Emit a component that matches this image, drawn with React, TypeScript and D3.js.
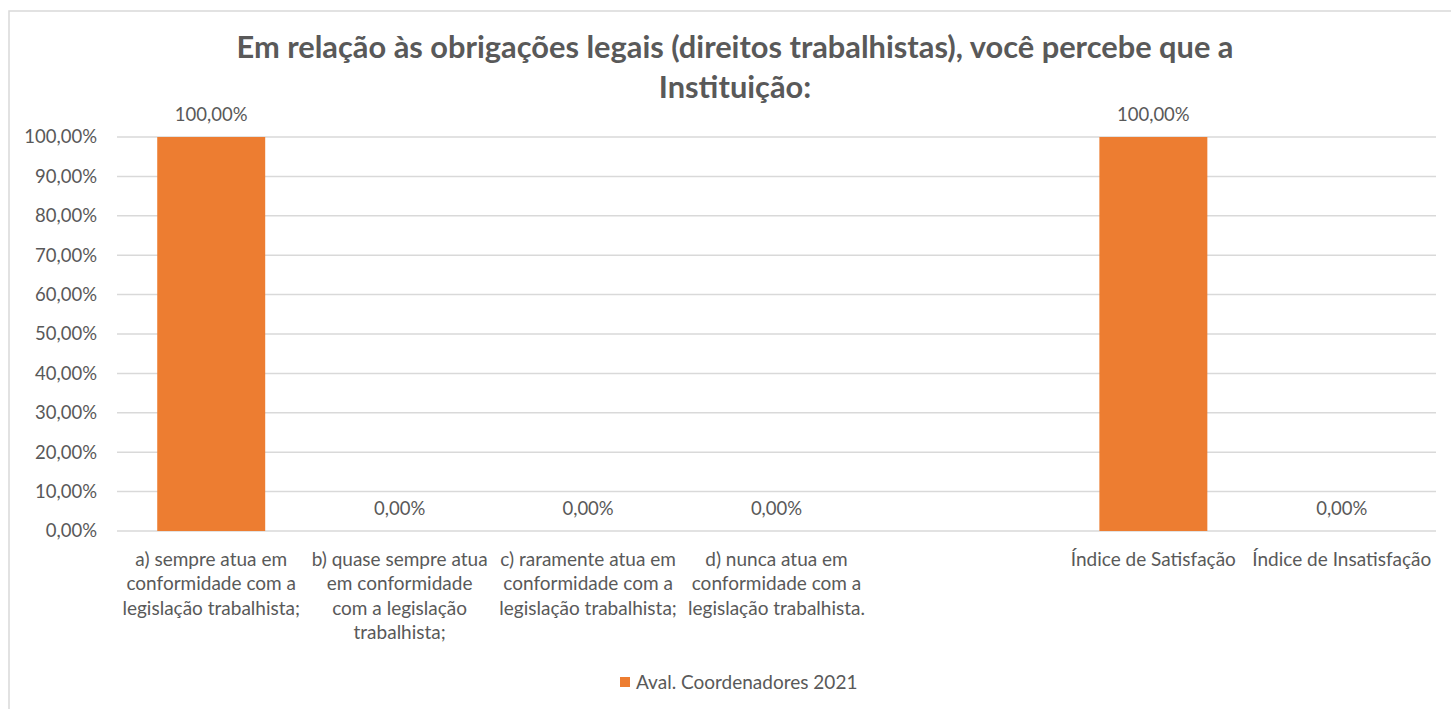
import { useEffect, useRef } from 'react'
import * as d3 from 'd3'

const W = 1451
const H = 709

const titleLines = [
  'Em relação às obrigações legais (direitos trabalhistas), você percebe que a',
  'Instituição:',
]
const categories = ['a', 'b', 'c', 'd', 'gap', 'sat', 'insat']
const categoryLabels: string[][] = [
  ['a) sempre atua em', 'conformidade com a', 'legislação trabalhista;'],
  ['b) quase sempre atua', 'em conformidade', 'com a legislação', 'trabalhista;'],
  ['c) raramente atua em', 'conformidade com a', 'legislação trabalhista;'],
  ['d) nunca atua em', 'conformidade com a', 'legislação trabalhista.'],
  [],
  ['Índice de Satisfação'],
  ['Índice de Insatisfação'],
]
const values: (number | null)[] = [1, 0, 0, 0, null, 1, 0]
const yTicks = [0, 0.1, 0.2, 0.3, 0.4, 0.5, 0.6, 0.7, 0.8, 0.9, 1]
const seriesName = 'Aval. Coordenadores 2021'

const BAR = '#ED7D31'
const TEXT = '#595959'
const GRID = '#d9d9d9'
const FONT = 'Lato, "Open Sans", sans-serif'

const fmtPct = (v: number) => (v * 100).toFixed(2).replace('.', ',') + '%'

export default function App() {
  const svgRef = useRef<SVGSVGElement>(null)

  useEffect(() => {
    document.body.style.margin = '0'
    if (!svgRef.current) return
    const svg = d3.select(svgRef.current)
    svg.selectAll('*').remove()

    const plotL = 117
    const plotR = 1436
    const plotT = 137
    const plotB = 531

    // chart frame
    svg
      .append('rect')
      .attr('x', 9)
      .attr('y', 11)
      .attr('width', W + 40)
      .attr('height', H + 40)
      .attr('fill', '#fff')
      .attr('stroke', GRID)
      .attr('stroke-width', 1.5)

    const x = d3
      .scaleBand<string>()
      .domain(categories)
      .range([plotL, plotR])
      .paddingInner(0.427)
      .paddingOuter(0.2135)

    const y = d3.scaleLinear().domain([0, 1]).range([plotB, plotT])

    // gridlines
    svg
      .append('g')
      .selectAll('line')
      .data(yTicks)
      .join('line')
      .attr('x1', plotL)
      .attr('x2', plotR)
      .attr('y1', (d) => y(d))
      .attr('y2', (d) => y(d))
      .attr('stroke', GRID)
      .attr('stroke-width', 1.5)

    // y tick labels
    svg
      .append('g')
      .selectAll('text')
      .data(yTicks)
      .join('text')
      .attr('x', 97)
      .attr('y', (d) => y(d))
      .attr('dy', '0.35em')
      .attr('text-anchor', 'end')
      .attr('font-family', FONT)
      .attr('font-size', 18.5)
      .attr('fill', TEXT)
      .text((d) => fmtPct(d))

    const data = categories.map((c, i) => ({ c, v: values[i], label: categoryLabels[i] }))

    // bars
    svg
      .append('g')
      .selectAll('rect')
      .data(data.filter((d) => d.v !== null && d.v > 0))
      .join('rect')
      .attr('x', (d) => x(d.c)!)
      .attr('y', (d) => y(d.v as number))
      .attr('width', x.bandwidth())
      .attr('height', (d) => plotB - y(d.v as number))
      .attr('fill', BAR)

    // data labels
    svg
      .append('g')
      .selectAll('text')
      .data(data.filter((d) => d.v !== null))
      .join('text')
      .attr('x', (d) => x(d.c)! + x.bandwidth() / 2)
      .attr('y', (d) => y(d.v as number) - 22)
      .attr('dy', '0.35em')
      .attr('text-anchor', 'middle')
      .attr('font-family', FONT)
      .attr('font-size', 18.5)
      .attr('fill', TEXT)
      .text((d) => fmtPct(d.v as number))

    // category labels
    const cat = svg
      .append('g')
      .selectAll('text')
      .data(data)
      .join('text')
      .attr('x', (d) => x(d.c)! + x.bandwidth() / 2)
      .attr('y', plotB + 28)
      .attr('text-anchor', 'middle')
      .attr('font-family', FONT)
      .attr('font-size', 19)
      .attr('fill', TEXT)
    cat
      .selectAll('tspan')
      .data((d) => d.label)
      .join('tspan')
      .attr('x', function () {
        const p = (this as SVGTSpanElement).parentNode as SVGTextElement
        return p.getAttribute('x')
      })
      .attr('dy', (_, i) => (i === 0 ? '0.35em' : 24.5))
      .text((t) => t)

    // title
    svg
      .append('text')
      .attr('x', 735)
      .attr('y', 47)
      .attr('text-anchor', 'middle')
      .attr('font-family', FONT)
      .attr('font-weight', 'bold')
      .attr('font-size', 30.8)
      .attr('fill', TEXT)
      .selectAll('tspan')
      .data(titleLines)
      .join('tspan')
      .attr('x', 735)
      .attr('dy', (_, i) => (i === 0 ? '0.35em' : 40))
      .text((t) => t)

    // legend
    const lg = svg.append('g')
    lg.append('rect')
      .attr('x', 620)
      .attr('y', 677)
      .attr('width', 10)
      .attr('height', 10)
      .attr('fill', BAR)
    lg.append('text')
      .attr('x', 636)
      .attr('y', 682)
      .attr('dy', '0.35em')
      .attr('font-family', FONT)
      .attr('font-size', 19)
      .attr('fill', TEXT)
      .text(seriesName)
  }, [])

  return <svg ref={svgRef} width={W} height={H} style={{ display: 'block' }} />
}
